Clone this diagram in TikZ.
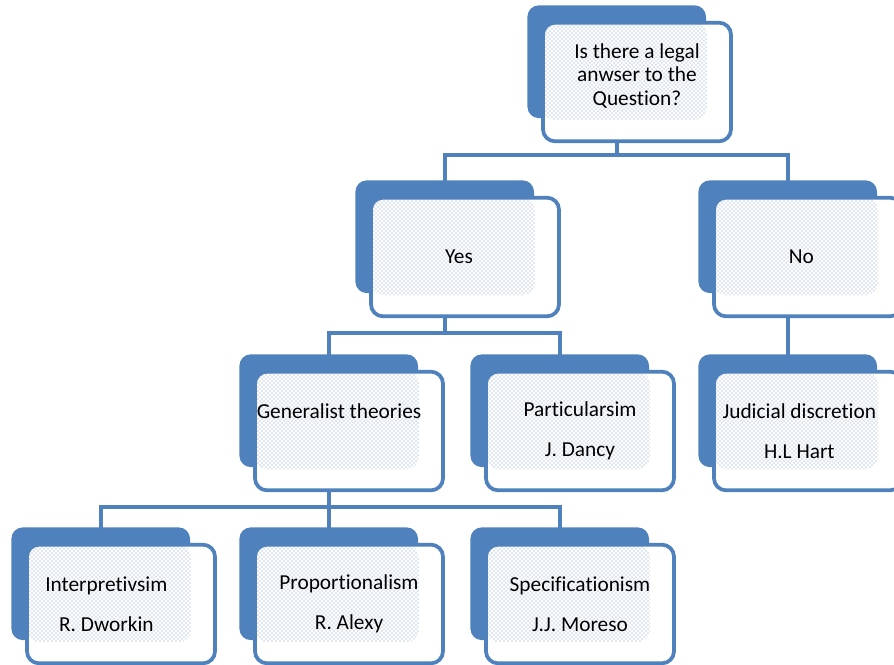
\documentclass[tikz,border=0pt]{standalone}
\usepackage{fontspec}
\setmainfont{Carlito}[Ligatures=NoCommon]
\usetikzlibrary{shadows,patterns,backgrounds}
\definecolor{boxblue}{RGB}{79,129,189}
\definecolor{dotblue}{RGB}{125,155,200}
\tikzset{
  card/.style={draw=boxblue, line width=2.8pt, rounded corners=9pt, fill=white,
    minimum width=141pt, minimum height=89pt, align=center, inner sep=0pt,
    font=\fontsize{16}{17.6}\selectfont,
    general shadow={fill=boxblue, shadow xshift=-16pt, shadow yshift=16pt,
      shadow scale=0.95},
    path picture={\fill[pattern=crosshatch dots, pattern color=dotblue]
      (path picture bounding box.north west) rectangle
      ([xshift=-18pt,yshift=16pt]path picture bounding box.south east);}},
  link/.style={draw=boxblue, line width=3pt}
}

\begin{document}
\begin{tikzpicture}[x=0.75pt,y=-0.75pt]
  \useasboundingbox (0,0) rectangle (894,665);
  % the question
  \node[card] (q) at (637,82) {Is there a legal\\anwser to the\\Question?\\[-6pt]\mbox{}};
  % first answer level
  \node[card] (yes) at (465,257) {Yes\hspace*{9pt}};
  \node[card] (no) at (808,257) {No\hspace*{10pt}};
  % theories
  \node[card] (gen) at (349,431) {Generalist theories\hspace*{15pt}\\[12.4pt]\mbox{}};
  \node[card] (part) at (580,431) {Particularsim\\[12.4pt]J. Dancy};
  \node[card] (jud) at (808,431) {Judicial discretion\hspace*{13pt}\\[12.4pt]H.L Hart\hspace*{13pt}};
  % generalist branches
  \node[card] (interp) at (121,604) {Interpretivsim\hspace*{22pt}\\[12.4pt]R. Dworkin\hspace*{22pt}};
  \node[card] (prop) at (349,604) {Proportionalism\\[12.4pt]R. Alexy};
  \node[card] (spec) at (580,604) {Specificationism\\[12.4pt]J.J. Moreso};
  \begin{pgfonlayer}{background}
    \draw[link] ([xshift=-15pt]q.south) -- ++(0,12) -| ([xshift=-15pt]yes.north);
    \draw[link] ([xshift=-15pt]q.south) -- ++(0,12) -| ([xshift=-15pt]no.north);
    \draw[link] ([xshift=-15pt]yes.south) -- ++(0,15) -| ([xshift=-15pt]gen.north);
    \draw[link] ([xshift=-15pt]yes.south) -- ++(0,15) -| ([xshift=-15pt]part.north);
    \draw[link] ([xshift=-15pt]no.south) -- ([xshift=-15pt]jud.north);
    \draw[link] ([xshift=-15pt]gen.south) -- ++(0,15) -| ([xshift=-15pt]interp.north);
    \draw[link] ([xshift=-15pt]gen.south) -- ++(0,15) -| ([xshift=-15pt]prop.north);
    \draw[link] ([xshift=-15pt]gen.south) -- ++(0,15) -| ([xshift=-15pt]spec.north);
  \end{pgfonlayer}
\end{tikzpicture}
\end{document}
